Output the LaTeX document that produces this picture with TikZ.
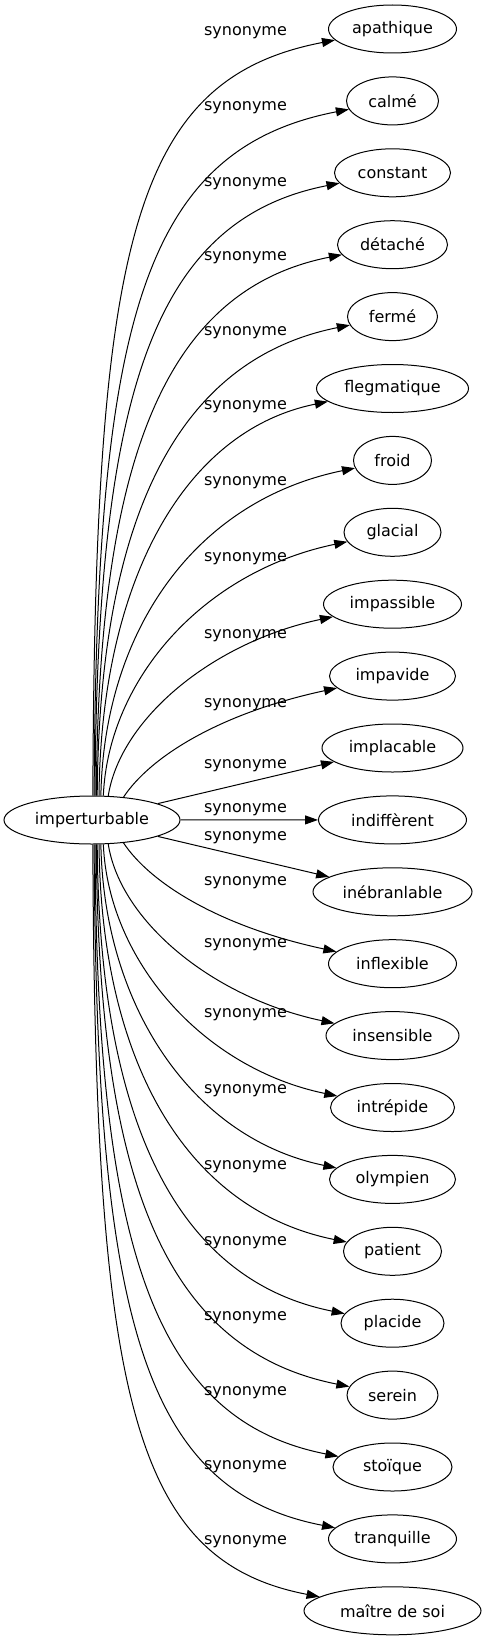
\documentclass[tikz,border=0pt]{standalone}
\usepackage{fontspec}
\setmainfont{DejaVu Sans}
\usetikzlibrary{arrows.meta,shapes.geometric}

\begin{document}
\begin{tikzpicture}[x=1pt,y=-1pt,
  mot/.style={ellipse,draw=black,line width=1pt,inner sep=0pt,minimum height=48pt,font=\fontsize{16}{19}\selectfont},
  lbl/.style={inner sep=0pt,font=\fontsize{16}{19}\selectfont},
  syn/.style={line width=1pt,-{Triangle[length=13pt,width=9pt]}}]
  \useasboundingbox (0,0) rectangle (487,1643);

  % Nodo central
  \node[mot,minimum width=176pt] (imp) at (92,820) {imperturbable};

  % Sinonimos
  \foreach \nm/\txt/\w [count=\i from 0] in {apathique/apathique/128, calme/calmé/92, constant/constant/116,
      detache/détaché/110, ferme/fermé/90, flegmatique/flegmatique/152, froid/froid/78, glacial/glacial/97,
      impassible/impassible/138, impavide/impavide/126, implacable/implacable/141, indifferent/indiffèrent/148,
      inebranlable/inébranlable/159, inflexible/inflexible/128, insensible/insensible/133, intrepide/intrépide/124,
      olympien/olympien/126, patient/patient/98, placide/placide/103, serein/serein/91, stoique/stoïque/119,
      tranquille/tranquille/128, maitre/maître de soi/177}
    \node[mot,minimum width=\w pt] (\nm) at (392.5,{29+71.9*\i}) {\txt};

  % Etiquetas
  \foreach \y [count=\n] in {33,108,184,258,333,407,483,559,636,705,766,810,
      838,883,945,1015,1091,1167,1243,1318,1393,1467,1542}
    \node[lbl] (e\n) at (245.5,\y) {synonyme};

  % Aristas hacia arriba
  \foreach \t/\a/\d/\h/\b/\c in {apathique/88/2/553/260/50, calme/85/2/473/250/48.5, constant/83/2/400/240/47,
      detache/80/2/331/230/45.5, ferme/78/2/269/220/44, flegmatique/74/2/212/210/42.5, froid/70/3/162/200/41,
      glacial/65/5/116/190/39.5, impassible/56/12/77/180/38, impavide/36/28/42/170/36.5}
    \draw[syn] (imp.\a) .. controls +(\d,-\h) and +(-\b,\c) .. (\t);
  \draw[syn] (imp.14) -- (implacable);
  \draw[syn] (imp) -- (indifferent);

  % Aristas hacia abajo
  \draw[syn] (imp.346) -- (inebranlable);
  \foreach \t/\a/\d/\h/\b/\c in {inflexible/324/28/42/170/36.5, insensible/304/12/77/180/38, intrepide/295/5/116/190/39.5,
      olympien/290/3/162/200/41, patient/286/2/212/210/42.5, placide/282/2/269/220/44, serein/280/2/331/230/45.5,
      stoique/277/2/400/240/47, tranquille/275/2/473/250/48.5, maitre/272/2/553/260/50}
    \draw[syn] (imp.\a) .. controls +(\d,\h) and +(-\b,-\c) .. (\t);
\end{tikzpicture}
\end{document}
